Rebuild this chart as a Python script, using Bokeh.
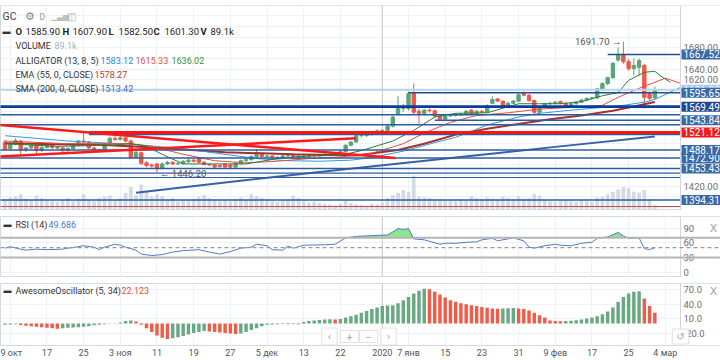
from bokeh.plotting import figure
from bokeh.models import Range1d, FixedTicker, Label, Span, NumeralTickFormatter, ColumnDataSource
from bokeh.layouts import column
from bokeh.embed import file_html
from bokeh.resources import INLINE

FONT = "Roboto"

# ---------------- data ----------------
x_tick_bars = [1, 8, 15, 22, 29, 36, 43, 50, 57, 64, 72, 77, 84, 91, 98, 105, 112, 119, 126]
x_tick_labels = ["9 окт", "17", "25", "3 ноя", "11", "19", "27", "5 дек", "13", "22", "2020",
                 "7 янв", "15", "23", "31", "9 фев", "17", "25", "4 мар"]
year_bar = 72

bar_open = [1503, 1491, 1500, 1505, 1488, 1492, 1497, 1487, 1493, 1497,
            1493, 1492, 1487, 1491, 1497, 1505, 1503, 1492, 1488, 1486,
            1500, 1510, 1508, 1511, 1505, 1474, 1483, 1464, 1460, 1462,
            1454, 1462, 1465, 1462, 1463, 1466, 1469, 1472, 1465, 1461,
            1460, 1459, 1462, 1460, 1456, 1463, 1468, 1470, 1476, 1480,
            1476, 1477, 1474, 1474, 1477, 1480, 1473, 1477, 1475, 1478,
            1477, 1479, 1480, 1478, 1480, 1485, 1497, 1503, 1515, 1515,
            1517, 1518, 1524, 1525, 1533, 1556, 1566, 1566, 1594, 1561,
            1557, 1563, 1562, 1552, 1546, 1552, 1553, 1554, 1555, 1563,
            1556, 1561, 1559, 1576, 1584, 1580, 1570, 1576, 1580, 1594,
            1591, 1581, 1559, 1568, 1575, 1576, 1579, 1576, 1570, 1575,
            1578, 1582, 1585, 1586, 1603, 1613, 1624, 1657, 1666, 1654,
            1641, 1643, 1647, 1594, 1585.9]
bar_high = [1507, 1503, 1510, 1507, 1494, 1499, 1499, 1495, 1500, 1499,
            1496, 1494, 1493, 1499, 1507, 1520, 1505, 1494, 1491, 1502,
            1513, 1514, 1515, 1513, 1508, 1487, 1485, 1467, 1463, 1464,
            1465, 1468, 1467, 1466, 1469, 1475, 1471, 1474, 1467, 1463,
            1462, 1461, 1463, 1462, 1465, 1470, 1472, 1478, 1490, 1482,
            1479, 1478, 1476, 1479, 1482, 1481, 1479, 1478, 1480, 1479,
            1481, 1482, 1481, 1482, 1487, 1499, 1505, 1518, 1518, 1520,
            1520, 1527, 1527, 1535, 1553, 1590, 1575, 1598, 1613, 1566,
            1565, 1566, 1564, 1554, 1555, 1556, 1557, 1558, 1563, 1565,
            1563, 1562, 1574, 1589, 1586, 1581, 1578, 1582, 1595, 1598,
            1593, 1583, 1570, 1577, 1578, 1580, 1581, 1577, 1577, 1580,
            1584, 1587, 1588, 1605, 1615, 1626, 1653, 1681, 1691.7, 1659,
            1660, 1660, 1650, 1598, 1607.9]
bar_low = [1487, 1489, 1497, 1480, 1484, 1489, 1480, 1485, 1491, 1490,
           1489, 1484, 1485, 1489, 1495, 1500, 1489, 1485, 1483, 1484,
           1498, 1505, 1506, 1502, 1471, 1472, 1460, 1456, 1455, 1446.2,
           1452, 1460, 1460, 1460, 1461, 1464, 1465, 1463, 1459, 1458,
           1454, 1455, 1454, 1454, 1455, 1461, 1466, 1468, 1474, 1474,
           1474, 1471, 1472, 1472, 1475, 1471, 1472, 1473, 1474, 1475,
           1476, 1477, 1476, 1477, 1479, 1484, 1495, 1502, 1512, 1513,
           1515, 1516, 1521, 1523, 1530, 1553, 1560, 1562, 1555, 1538,
           1553, 1558, 1549, 1543, 1544, 1550, 1551, 1552, 1553, 1553,
           1555, 1557, 1558, 1574, 1578, 1568, 1568, 1574, 1578, 1589,
           1579, 1553, 1556, 1566, 1573, 1574, 1574, 1568, 1568, 1573,
           1576, 1580, 1583, 1584, 1601, 1610, 1622, 1654, 1650, 1637,
           1628, 1628, 1566, 1580, 1582.5]
bar_close = [1490, 1500, 1506, 1488, 1492, 1497, 1487, 1493, 1497, 1493,
             1492, 1487, 1491, 1497, 1505, 1503, 1492, 1488, 1486, 1500,
             1510, 1508, 1511, 1505, 1474, 1484, 1463, 1459, 1458, 1453,
             1462, 1465, 1462, 1463, 1467, 1469, 1467, 1465, 1461, 1460,
             1456, 1457, 1456, 1456, 1463, 1468, 1470, 1476, 1480, 1476,
             1477, 1474, 1474.5, 1477, 1480, 1473, 1477, 1475, 1478, 1477,
             1479, 1480, 1478, 1480, 1485, 1497, 1503, 1515, 1515.5, 1517,
             1518, 1524, 1525, 1533, 1550, 1566, 1570, 1594, 1559, 1557,
             1563, 1562, 1552, 1546, 1552, 1553, 1554, 1555, 1561, 1556,
             1561, 1559, 1571, 1583, 1580, 1570, 1576, 1580, 1592, 1591,
             1581, 1559, 1568, 1575, 1576, 1578, 1576, 1570, 1575, 1578,
             1582, 1585, 1586, 1603, 1613, 1624, 1651, 1666, 1654, 1641,
             1647, 1656, 1587, 1585, 1601.3]
volume_k = [180, 210, 230, 260, 190, 170, 240, 200, 160, 150,
            140, 170, 200, 150, 190, 260, 180, 150, 200, 220,
            240, 170, 200, 280, 380, 250, 420, 300, 220, 260,
            230, 180, 200, 150, 170, 160, 190, 220, 250, 200,
            180, 160, 170, 150, 190, 210, 170, 260, 230, 200,
            170, 150, 140, 160, 180, 240, 200, 150, 130, 140,
            120, 110, 100, 90, 110, 160, 120, 100, 90, 80,
            110, 100, 120, 200, 250, 280, 330, 300, 560, 220,
            210, 200, 180, 190, 170, 160, 150, 180, 170, 230,
            200, 180, 210, 190, 170, 220, 200, 180, 230, 190,
            200, 260, 240, 180, 150, 140, 160, 170, 150, 140,
            160, 150, 140, 210, 220, 260, 300, 340, 380, 360,
            300, 290, 330, 180, 89.1]
ao_values = [-3, -2.5, -2, -3.5, -5, -6, -7, -8, -9, -10,
             -11, -10, -9, -8.5, -8, -7, -6, -4, -3, -2,
             -1, 0.5, 2, 5, 6, 4, -3, -10, -18, -25,
             -30, -32.5, -31, -29, -26, -23, -20, -18, -16, -17,
             -18, -19, -20, -21, -22, -21, -18, -14, -10, -6,
             -3, -2.5, -2, -1.5, -2, -1.5, -2, 3, 5, 6,
             7, 8, 8.5, 8, 9, 12, 15, 18, 22, 26,
             30, 33, 36, 37, 38, 42, 48, 55, 62, 68,
             72, 71, 66, 60, 54, 48, 45, 42, 40, 38,
             36, 34, 32.5, 31, 30.5, 31, 31.5, 32, 31, 30,
             27, 22, 17, 12, 6, 5, 4.5, 5, 5.5, 6.5,
             8, 10, 12, 15, 19, 25, 33, 45, 55, 62,
             66, 67, 52, 36, 22.123]
rsi_bars = [0, 1, 3, 4, 6, 8, 11, 12, 14, 15, 17, 18, 19, 21, 22, 23, 25, 26, 28, 30,
            32, 34, 37, 39, 41, 43, 45, 47, 48, 50, 51, 53, 54, 55, 57, 61, 63, 65, 67, 69,
            71, 73, 74, 75, 76, 77, 78, 80, 81, 83, 84, 86, 88, 90, 91, 93, 94, 96, 97, 99,
            100, 101, 103, 105, 106, 108, 110, 112, 113, 115, 117, 118, 119, 121, 122, 123, 124]
rsi_values = [49, 52, 47, 45, 47, 46, 47, 49, 52, 54, 51, 46, 51, 57, 55, 51, 45, 37, 34, 36,
              41, 44, 46, 41, 37, 42, 49, 51, 57, 54, 46, 45, 53, 49, 55, 56, 57, 70, 73, 74,
              75, 76, 82, 89, 87, 89, 68, 66, 63, 57, 59, 59, 61, 62, 66, 69, 64, 68, 70, 64,
              51, 49, 54, 57, 55, 54, 59, 61, 69, 72, 81, 74, 69, 70, 48, 46, 49.686]
sma200_bars = [25, 42, 60, 86, 105, 124]
sma200_values = [1408, 1427, 1447, 1474, 1494, 1513.42]
ema55_bars = [0, 10, 20, 30, 42, 55, 67, 75, 80, 86, 92, 98, 104, 110, 116, 120, 124]
ema55_values = [1501, 1499, 1497, 1492, 1484, 1480, 1478, 1488, 1500, 1517, 1528, 1537, 1546,
                1553, 1562, 1570, 1578.27]
jaw_bars = [0, 12, 24, 30, 36, 42, 48, 54, 60, 66, 70, 76, 82, 86, 92, 98, 102, 108, 114, 118,
            122, 124, 129, 132]
jaw_values = [1515, 1505, 1499, 1494, 1488, 1480, 1472, 1468, 1467, 1469, 1474, 1486, 1502,
              1512, 1535, 1550, 1557, 1563, 1568, 1572, 1578, 1583.12, 1606, 1610]
teeth_bars = [0, 12, 24, 28, 34, 40, 46, 52, 58, 64, 70, 76, 80, 85, 90, 96, 102, 108, 114,
              117, 121, 124, 126, 129]
teeth_values = [1505, 1500, 1500, 1495, 1480, 1468, 1464, 1467, 1472, 1475, 1482, 1500, 1520,
                1540, 1553, 1558, 1565, 1568, 1572, 1587, 1604, 1615.33, 1623, 1613]
lips_bars = [0, 10, 20, 24, 27, 30, 34, 40, 46, 52, 58, 64, 68, 74, 78, 82, 86, 92, 98, 102,
             106, 110, 114, 117, 119, 122, 124, 125, 127]
lips_values = [1500, 1495, 1497, 1500, 1495, 1480, 1462, 1462, 1462, 1472, 1477, 1478, 1487,
               1505, 1525, 1550, 1557, 1558, 1575, 1575, 1575, 1579, 1590, 1596, 1619, 1634,
               1636.02, 1628, 1615]

level_prices = [1667.52, 1601.30, 1595.65, 1569.49, 1554.2, 1543.84, 1535.5, 1521.12, 1516.9,
                1488.17, 1472.90, 1453.43, 1444.6, 1436.5, 1394.31, 1382.0]
level_start = [115, -1, 77, -1, -1, 82, -1, 16, 16, -1, -1, -1, -1, -1, -1, -1]
level_colors = ["#1f4e94", "#b9d4ee", "#1f4e94", "#0b3c9c", "#2d5c9e", "#2d5c9e", "#2d5c9e",
                "#ff1414", "#2d5c9e", "#2d5c9e", "#2d5c9e", "#2d5c9e", "#2d5c9e", "#2d5c9e",
                "#2d5c9e", "#b5544f"]
level_widths = [1.6, 2, 1.6, 2.6, 1.5, 1.5, 1.5, 3, 1.2, 1.5, 1.5, 1.5, 1.2, 1.2, 1.5, 1.2]

tag_texts = ["1601.30", "1667.52", "1595.65", "1569.49", "1543.84", "1521.12", "1472.90",
             "1488.17", "1453.43", "1394.31"]
tag_prices = [1601.30, 1667.52, 1595.65, 1569.49, 1543.84, 1521.12, 1472.90, 1488.17,
              1453.43, 1394.31]
tag_colors = ["#a9c9ea", "#3b69a6", "#3b69a6", "#22498f", "#3b69a6", "#f01c1c", "#3b69a6",
              "#3b69a6", "#3b69a6", "#3b69a6"]

trend_x0 = [-1, -1]
trend_p0 = [1535, 1476]
trend_x1 = [74.5, 67]
trend_p1 = [1473, 1510]

price_ticks = [1420, 1620, 1640, 1680]
rsi_ticks = [0, 30, 60, 90]
ao_ticks = [-20, 10, 40, 70]

# ---------------- layout ----------------
W = 720
CHART_W = 680                                  # width of the chart area, price scale to its right
H_MAIN, H_RSI, H_AO = 210, 67, 83
X_START, PRICE_EDGE = -0.86, 128.9             # bar range of the chart area
X_END = X_START + (PRICE_EDGE - X_START) * W / CHART_W
XR = Range1d(X_START, X_END)
GRID = "#eef1f5"


def base_fig(h, yr, top=0, bottom=0, bottom_axis=False):
    f = figure(width=W, height=h, x_range=XR, y_range=yr, output_backend="svg",
               toolbar_location=None, x_axis_location="below" if bottom_axis else None,
               y_axis_location="right", min_border_left=0, min_border_right=0,
               min_border_top=top, min_border_bottom=bottom)
    f.outline_line_color = "#d3dae4"
    f.xgrid.ticker = FixedTicker(ticks=x_tick_bars)
    f.xgrid.grid_line_color = GRID
    f.ygrid.grid_line_color = GRID
    f.add_layout(Span(location=year_bar, dimension="height", line_color="#c8c8c8",
                      line_width=1, level="underlay"))
    return f


def price_scale(f, yr, ticks, fmt):
    # white strip for the price scale, then a real axis fixed at its edge
    f.quad(left=[PRICE_EDGE], right=[X_END], bottom=[yr.start], top=[yr.end],
           fill_color="white", line_color=None)
    ya = f.yaxis[0]
    ya.fixed_location = PRICE_EDGE
    ya.ticker = FixedTicker(ticks=ticks)
    ya.formatter = NumeralTickFormatter(format=fmt)
    ya.axis_line_color = "#cfd6e0"
    ya.major_tick_line_color = None
    ya.minor_tick_line_color = None
    ya.major_tick_out = 0
    ya.minor_tick_out = 0
    ya.major_label_text_font = FONT
    ya.major_label_text_font_size = "9.5px"
    ya.major_label_text_color = "#6e6e6e"
    ya.major_label_standoff = 3


def txt(fig, yr, x, ytop, s, color="#333333", size="9px", bold=False, align="left",
        font=FONT):
    fig.add_layout(Label(x=x, y=yr.end, x_units="screen", y_units="data", y_offset=-ytop,
                         text=s, text_color=color, text_font=font, text_font_size=size,
                         text_font_style="bold" if bold else "normal",
                         text_baseline="middle", text_align=align))


bars = list(range(len(bar_close)))
UPC, DNC = "#5aa476", "#ef5848"
src = ColumnDataSource(dict(
    x=bars, o=bar_open, h=bar_high, l=bar_low, c=bar_close, vol=volume_k,
    top=[max(o, c) for o, c in zip(bar_open, bar_close)],
    bot=[min(o, c) for o, c in zip(bar_open, bar_close)],
    col=[UPC if c >= o else DNC for o, c in zip(bar_open, bar_close)],
))

# ---- main panel ----
YM = Range1d(1374.5, 1759.5)
pm = base_fig(H_MAIN, YM, top=5)
pm.ygrid.ticker = FixedTicker(ticks=list(range(1380, 1761, 20)))

pm.extra_y_ranges = {"vol": Range1d(0, 3300)}
pm.vbar(x="x", top="vol", bottom=0, width=0.7, source=src, y_range_name="vol",
        fill_color="#d2dae5", line_color=None)

pm.segment(x0="x", y0="l", x1="x", y1="h", source=src, line_color="col", line_width=1)
pm.vbar(x="x", top="top", bottom="bot", width=0.64, source=src, fill_color="col",
        line_color="col", line_width=1)

pm.line(sma200_bars, sma200_values, line_color="#3562a8", line_width=2)
pm.line(ema55_bars, ema55_values, line_color="#a8302c", line_width=2)
pm.line(jaw_bars, jaw_values, line_color="#2f9ae0", line_width=1)
pm.line(teeth_bars, teeth_values, line_color="#e0503c", line_width=1)
pm.line(lips_bars, lips_values, line_color="#2f7d36", line_width=1)

pm.segment(x0=level_start, y0=level_prices, x1=[PRICE_EDGE] * len(level_prices),
           y1=level_prices, line_color=level_colors, line_width=level_widths)
pm.segment(x0=trend_x0, y0=trend_p0, x1=trend_x1, y1=trend_p1, line_color="#ff1a1a",
           line_width=2.5)
price_scale(pm, YM, price_ticks, "0.00")

pm.add_layout(Label(x=bars[bar_high.index(max(bar_high))], y=max(bar_high), x_offset=-2,
                    text=f"{max(bar_high):.2f} \u2192", text_font=FONT, text_font_size="9.5px",
                    text_color="#555555", text_align="right", text_baseline="middle"))
pm.add_layout(Label(x=bars[bar_low.index(min(bar_low))], y=min(bar_low), x_offset=3,
                    y_offset=-1, text=f"\u2190 {min(bar_low):.2f}", text_font=FONT,
                    text_font_size="9.5px", text_color="#555555", text_align="left",
                    text_baseline="middle"))

for t, pr_, col in zip(tag_texts, tag_prices, tag_colors):
    pm.add_layout(Label(x=PRICE_EDGE, y=pr_, x_offset=1, text=t, text_color="white",
                        text_font=FONT, text_font_size="10px", text_baseline="middle",
                        text_align="left", background_fill_color=col, padding=(2, 1)))

# legend of main panel
txt(pm, YM, 2, 11, "GC", "#444444", "10.5px")
txt(pm, YM, 24, 11, "\u2699", "#8a8a8a", "11px")
txt(pm, YM, 39, 11, "D", "#9a9a9a", "8.5px")
txt(pm, YM, 50, 11, "\u2581\u2583\u2585", "#c0c0c0", "8px")
txt(pm, YM, 66, 11, "\u25eb", "#b0b0b0", "10px")

txt(pm, YM, 2, 26, "\u25ac", "#333333", "8px")
for x, s, b in [(15, "O", True), (25, "1585.90", False), (62, "H", True), (72, "1607.90", False),
                (108, "L", True), (118, "1582.50", False), (153, "C", True),
                (164, "1601.30", False), (200, "V", True), (210, "89.1k", False)]:
    txt(pm, YM, x, 26, s, "#222222", "9.5px", b)
txt(pm, YM, 15, 40, "VOLUME")
txt(pm, YM, 54, 40, "89.1k", "#9fb3c8")
txt(pm, YM, 15, 55, "ALLIGATOR (13, 8, 5)")
txt(pm, YM, 100, 55, "1583.12", "#2b8cd6")
txt(pm, YM, 135, 55, "1615.33", "#d9534f")
txt(pm, YM, 171, 55, "1636.02", "#3c8d40")
txt(pm, YM, 15, 69, "EMA (55, 0, CLOSE)")
txt(pm, YM, 94, 69, "1578.27", "#c0392b")
txt(pm, YM, 15, 83, "SMA (200, 0, CLOSE)")
txt(pm, YM, 100, 83, "1513.42", "#3f73b8")

# ---- RSI panel ----
YR = Range1d(-10.7, 113.5)
pr = base_fig(H_RSI, YR, top=6)
pr.ygrid.ticker = FixedTicker(ticks=rsi_ticks)
pr.varea(x=rsi_bars, y1=[70] * len(rsi_bars), y2=[max(v, 70) for v in rsi_values],
         fill_color="#7fe47f", fill_alpha=0.9)
pr.add_layout(Span(location=70, dimension="width", line_color="#b5b5b5", line_width=2))
pr.add_layout(Span(location=30, dimension="width", line_color="#b5b5b5", line_width=2))
pr.add_layout(Span(location=50, dimension="width", line_color="#9a9a9a", line_width=1.2,
                   line_dash="4 3"))
pr.line(rsi_bars, rsi_values, line_color="#4d7cc2", line_width=1)
price_scale(pr, YR, rsi_ticks, "0")
txt(pr, YR, 3, 8, "\u25ac", "#333333", "8px")
txt(pr, YR, 15, 8, "RSI (14)")
txt(pr, YR, 48, 8, "49.686", "#4a78c2")
txt(pr, YR, 713, 12, "X", "#a0a0a0", "11px", align="center", font="DejaVu Sans")

# ---- AO panel ----
YA = Range1d(-46, 83)
pa = base_fig(H_AO, YA, top=6, bottom=14, bottom_axis=True)
pa.ygrid.ticker = FixedTicker(ticks=ao_ticks)
ao_colors = ["#6aa884" if i == 0 or ao_values[i] >= ao_values[i - 1] else "#ee5d4a"
             for i in range(len(ao_values))]
pa.vbar(x=bars, top=ao_values, bottom=0, width=0.66, fill_color=ao_colors, line_color=None)
price_scale(pa, YA, ao_ticks, "0.0")
xa = pa.xaxis[0]
xa.ticker = FixedTicker(ticks=x_tick_bars)
xa.major_label_overrides = {b: t for b, t in zip(x_tick_bars, x_tick_labels)}
xa.axis_line_color = None
xa.major_tick_line_color = None
xa.minor_tick_line_color = None
xa.major_tick_out = 0
xa.minor_tick_out = 0
xa.major_label_text_font = FONT
xa.major_label_text_font_size = "9px"
xa.major_label_text_color = "#555555"
xa.major_label_standoff = 2
txt(pa, YA, 3, 7, "\u25ac", "#333333", "8px")
txt(pa, YA, 15, 7, "AwesomeOscillator (5, 34)")
txt(pa, YA, 121, 7, "22.123", "#e74c3c")
txt(pa, YA, 713, 8, "X", "#a0a0a0", "11px", align="center", font="DejaVu Sans")
for x, s in [(329, "\u2039"), (349, "+"), (368, "\u2212"), (388, "\u203a")]:
    pa.add_layout(Label(x=x, y=YA.start, x_units="screen", y_units="data", y_offset=9, text=s,
                        text_color="#aaaaaa", text_font=FONT, text_font_size="11px",
                        text_align="center", text_baseline="middle",
                        background_fill_color="white", border_line_color="#e0e0e0",
                        padding=(6, 2)))
pa.add_layout(Label(x=PRICE_EDGE, y=YA.start, y_offset=9, text="\u21ba",
                    text_color="#aaaaaa", text_font="DejaVu Sans",
                    text_font_size="10px", text_align="center", text_baseline="middle",
                    background_fill_color="white", border_line_color="#e0e0e0",
                    padding=(4, 2)))

layout = column(pm, pr, pa, spacing=0)
open("out.html", "w").write(file_html(layout, INLINE))
